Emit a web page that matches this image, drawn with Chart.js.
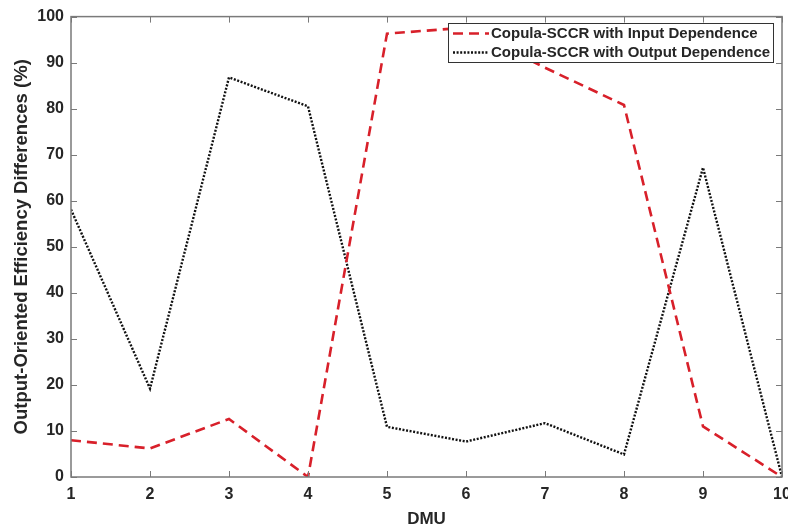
<!DOCTYPE html>
<html>
<head>
<meta charset="utf-8">
<script src="https://cdn.jsdelivr.net/npm/chart.js@4.4.1/dist/chart.umd.min.js"></script>
<style>
  html, body { margin: 0; padding: 0; background: #fff; overflow: hidden; }
  #wrap { width: 800px; height: 530px; }
</style>
</head>
<body>
<div id="wrap"><canvas id="chart" width="800" height="530"></canvas></div>
<script>
// datos
const dmu = [1, 2, 3, 4, 5, 6, 7, 8, 9, 10];
const inputDep = [8.0, 6.2, 12.6, 0, 96.3, 97.6, 88.9, 80.8, 11.0, 0];
const outputDep = [58.1, 19.2, 86.8, 80.5, 10.9, 7.7, 11.7, 4.9, 67.2, 0];
const yTicks = [0, 10, 20, 30, 40, 50, 60, 70, 80, 90, 100];
const legendLabels = ['Copula-SCCR with Input Dependence', 'Copula-SCCR with Output Dependence'];

const axisColor = '#7a7a7a';
const textColor = '#262626';
const fontFam = '"Liberation Sans", Arial, Helvetica, sans-serif';

// caja estilo MATLAB con ticks hacia adentro y leyenda interior
const boxPlugin = {
  id: 'matlabBox',
  afterDatasetsDraw(chart) {
    const { ctx, chartArea: a, scales: { x, y } } = chart;
    ctx.save();
    ctx.strokeStyle = axisColor;
    ctx.lineWidth = 1;
    const tl = 6;
    ctx.beginPath();
    dmu.forEach(v => {
      const px = Math.round(x.getPixelForValue(v)) + 0.5;
      ctx.moveTo(px, a.bottom); ctx.lineTo(px, a.bottom - tl);
      ctx.moveTo(px, a.top); ctx.lineTo(px, a.top + tl);
    });
    yTicks.forEach(v => {
      const py = Math.round(y.getPixelForValue(v)) + 0.5;
      ctx.moveTo(a.left, py); ctx.lineTo(a.left + tl, py);
      ctx.moveTo(a.right, py); ctx.lineTo(a.right - tl, py);
    });
    ctx.stroke();
    ctx.lineWidth = 1.5;
    ctx.strokeRect(a.left, a.top, a.right - a.left, a.bottom - a.top);

    // leyenda
    const lx = 448, ly = 23, lw = 325, lh = 39;
    ctx.fillStyle = '#fff';
    ctx.fillRect(lx, ly, lw, lh);
    ctx.strokeStyle = '#333';
    ctx.lineWidth = 1;
    ctx.strokeRect(lx + 0.5, ly + 0.5, lw, lh);
    const sets = chart.data.datasets;
    ctx.font = 'bold 15px ' + fontFam;
    ctx.textBaseline = 'middle';
    sets.forEach((ds, i) => {
      const yy = ly + 10.5 + i * 19;
      ctx.strokeStyle = ds.borderColor;
      ctx.lineWidth = ds.borderWidth;
      ctx.setLineDash(ds.borderDash);
      ctx.beginPath();
      ctx.moveTo(lx + 5, yy); ctx.lineTo(lx + 41, yy);
      ctx.stroke();
      ctx.setLineDash([]);
      ctx.fillStyle = textColor;
      ctx.fillText(legendLabels[i], lx + 43, yy + 0.5);
    });
    ctx.restore();
  }
};

new Chart(document.getElementById('chart'), {
  type: 'line',
  data: {
    datasets: [
      {
        label: legendLabels[0],
        data: dmu.map((d, i) => ({ x: d, y: inputDep[i] })),
        borderColor: '#d8202a',
        borderWidth: 2.6,
        borderDash: [10, 6],
        pointRadius: 0,
        tension: 0,
        fill: false
      },
      {
        label: legendLabels[1],
        data: dmu.map((d, i) => ({ x: d, y: outputDep[i] })),
        borderColor: '#111',
        borderWidth: 2.4,
        borderDash: [2, 1.6],
        pointRadius: 0,
        tension: 0,
        fill: false
      }
    ]
  },
  options: {
    responsive: false,
    animation: false,
    layout: { padding: { left: 4, right: 18, top: 12, bottom: 0 } },
    plugins: { legend: { display: false }, tooltip: { enabled: false } },
    scales: {
      x: {
        type: 'linear',
        min: 1, max: 10,
        afterBuildTicks: s => { s.ticks = dmu.map(v => ({ value: v })); },
        afterFit: s => { s.height = 53; },
        grid: { display: false, drawTicks: false },
        border: { display: false },
        ticks: { color: textColor, font: { family: fontFam, size: 16, weight: 'bold' }, padding: 8, maxRotation: 0 },
        title: { display: true, text: 'DMU', color: textColor, font: { family: fontFam, size: 17, weight: 'bold' }, padding: { top: 2, bottom: 0 } }
      },
      y: {
        min: 0, max: 100,
        afterBuildTicks: s => { s.ticks = yTicks.map(v => ({ value: v })); },
        afterFit: s => { s.width = 67; },
        grid: { display: false, drawTicks: false },
        border: { display: false },
        ticks: { color: textColor, font: { family: fontFam, size: 16, weight: 'bold' }, padding: 7 },
        title: { display: true, text: 'Output-Oriented Efficiency Differences (%)', color: textColor, font: { family: fontFam, size: 18.5, weight: 'bold' }, padding: { top: 7, bottom: 4 } }
      }
    }
  },
  plugins: [boxPlugin]
});
</script>
</body>
</html>
